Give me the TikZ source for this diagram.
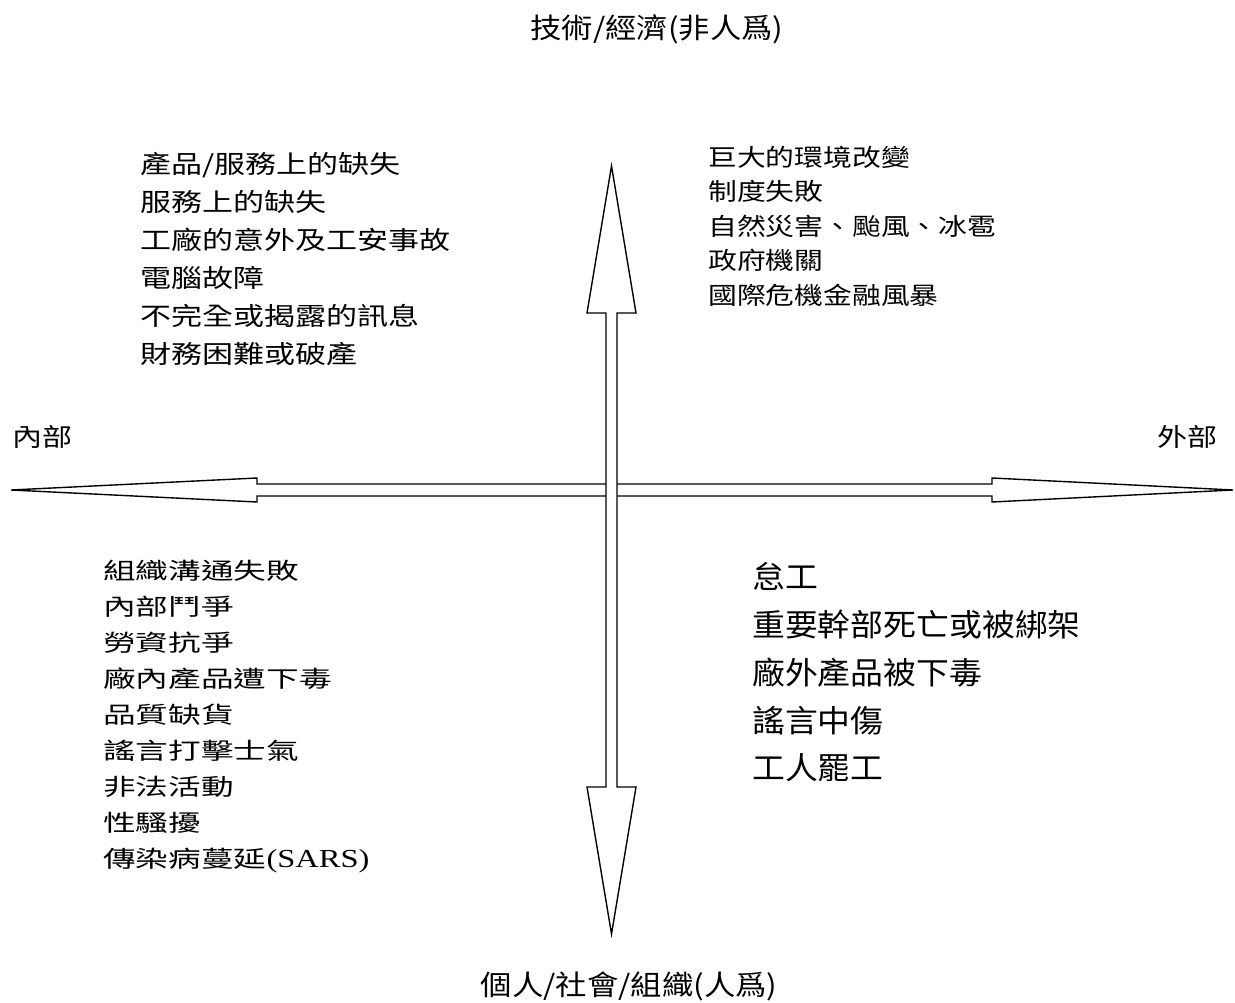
\documentclass[tikz,border=0pt]{standalone}
\usepackage{fontspec}
\newfontfamily\cjkaxis[FakeStretch=1.12]{Noto Sans CJK TC}
\newfontfamily\cjkside[FakeStretch=1.2]{Noto Sans CJK TC}
\newfontfamily\cjkul[FakeStretch=1.24]{Noto Sans CJK TC}
\newfontfamily\cjkur[FakeStretch=1.2]{Noto Sans CJK TC}
\newfontfamily\cjkll[FakeStretch=1.42]{Noto Sans CJK TC}
\newfontfamily\cjklr[FakeStretch=1.06]{Noto Sans CJK TC}
\newfontfamily\latinll[FakeStretch=1.25]{Liberation Serif}

\begin{document}
\begin{tikzpicture}[x=1pt, y=-1pt,
		axisarrow/.style={draw=black, fill=white, line width=1.4pt},
		quadlist/.style={anchor=west, align=left, inner sep=0pt}]
	\useasboundingbox (0,0) rectangle (1235,1003);
	% horizontal axis: internal <-> external
	\filldraw [axisarrow] (11,490) -- (257,478) -- (257,484) -- (992,484) -- (992,478) -- (1233,490)
		-- (992,502) -- (992,496) -- (257,496) -- (257,502) -- cycle;
	% vertical axis: technical/economic <-> human/social
	\filldraw [axisarrow] (611.5,166) -- (636,313) -- (617,313) -- (617,787) -- (636,787) -- (611.5,934)
		-- (587,787) -- (606,787) -- (606,313) -- (587,313) -- cycle;
	% axis labels
	\node [font={\cjkaxis\fontsize{28}{34}\selectfont}] (tech) at (657,29) {技術/經濟(非人爲)};
	\node [font={\cjkaxis\fontsize{28}{34}\selectfont}] (human) at (629,986) {個人/社會/組織(人爲)};
	\node [anchor=west, inner sep=0pt, font={\cjkside\fontsize{25}{30}\selectfont}] (inner) at (12,437) {內部};
	\node [anchor=east, inner sep=0pt, font={\cjkside\fontsize{25}{30}\selectfont}] (outer) at (1218,437) {外部};
	% quadrants
	\node [quadlist, font={\cjkul\fontsize{25}{38}\selectfont}] (techin) at (140,259)
		{產品/服務上的缺失\\服務上的缺失\\工廠的意外及工安事故\\電腦故障\\不完全或揭露的訊息\\財務困難或破產};
	\node [quadlist, font={\cjkur\fontsize{24}{34.5}\selectfont}] (techout) at (708,226)
		{巨大的環境改變\\制度失敗\\自然災害、颱風、冰雹\\政府機關\\國際危機金融風暴};
	\node [quadlist, font={\cjkll\fontsize{23}{36}\selectfont}] (humanin) at (103,717)
		{組織溝通失敗\\內部鬥爭\\勞資抗爭\\廠內產品遭下毒\\品質缺貨\\謠言打擊士氣\\非法活動\\性騷擾\\傳染病蔓延{\latinll\fontsize{26}{36}\selectfont(SARS)}};
	\node [quadlist, font={\cjklr\fontsize{31}{47.75}\selectfont}] (humanout) at (752,672.5)
		{怠工\\重要幹部死亡或被綁架\\廠外產品被下毒\\謠言中傷\\工人罷工};
\end{tikzpicture}
\end{document}
